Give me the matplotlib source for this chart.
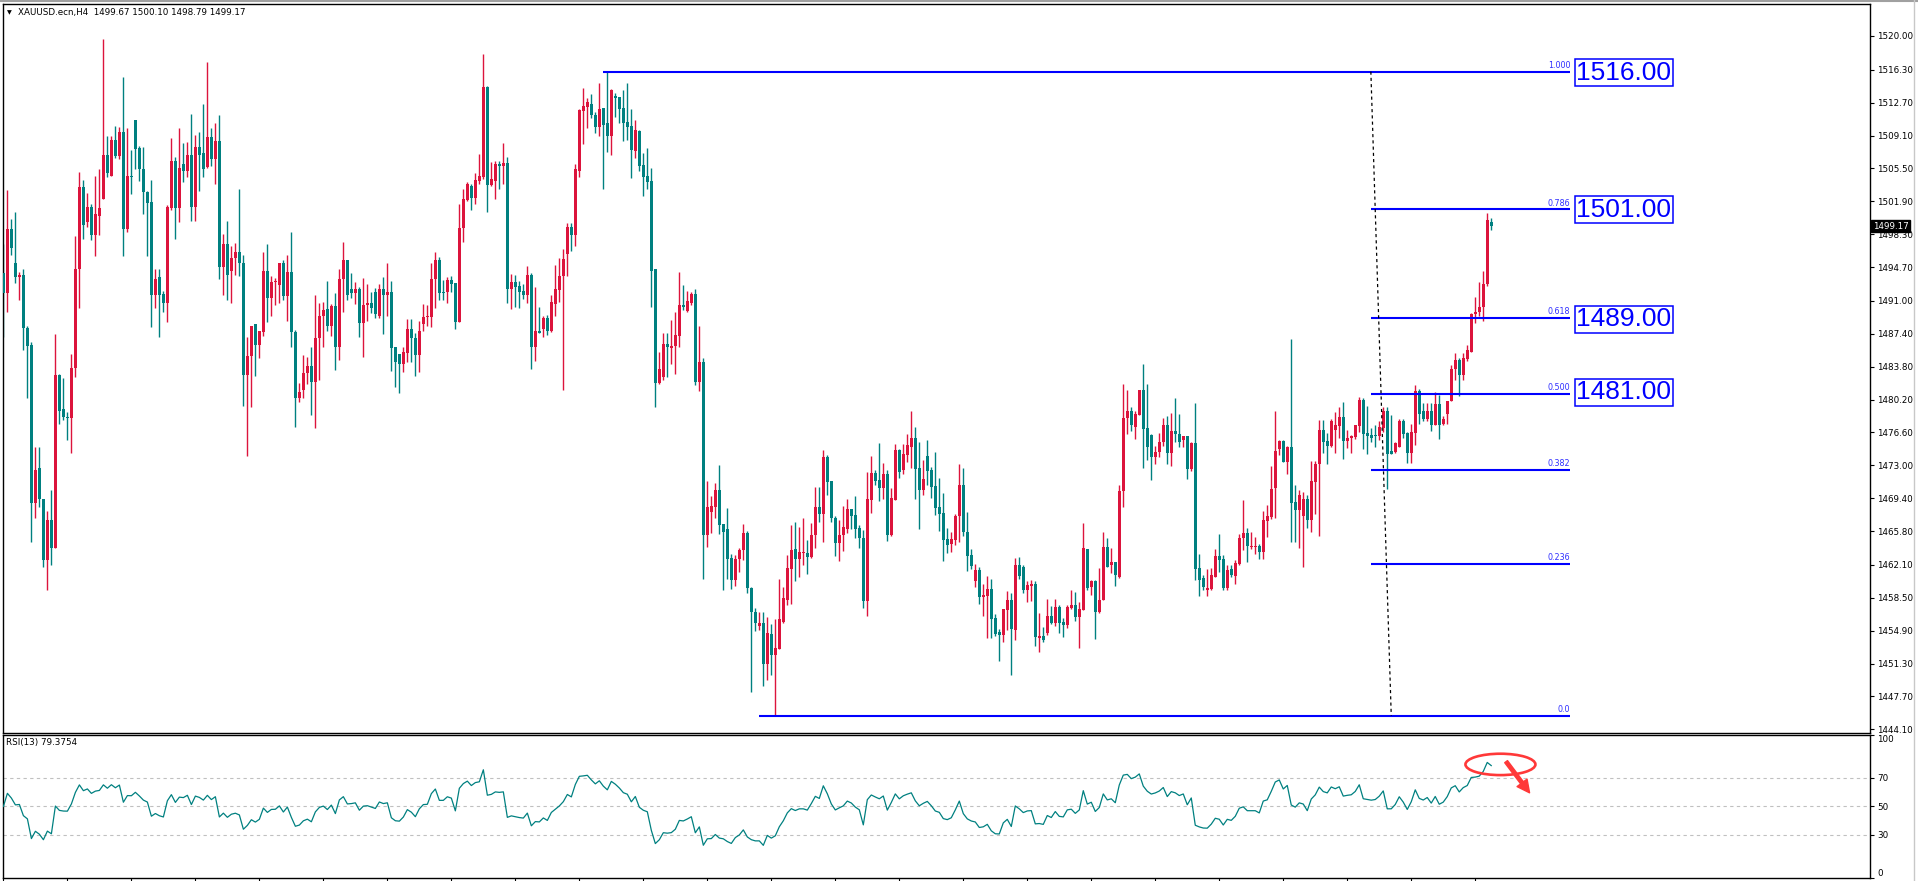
import numpy as np
import pandas as pd
import matplotlib
matplotlib.use('Agg')
import matplotlib.pyplot as plt
from matplotlib.patches import Ellipse
from matplotlib.lines import Line2D

# header texts
symbol_header = "XAUUSD.ecn,H4  1499.67 1500.10 1498.79 1499.17"
rsi_header = "RSI(13) 79.3754"
last_price = 1499.17

# XAUUSD H4 candles (oldest first)
opens = [
    1494.1, 1491.9, 1498.9, 1495.1, 1493.6, 1493.8, 1488.0, 1486.2, 1468.9, 1472.7,
    1469.3, 1462.6, 1467.0, 1464.0, 1482.9, 1479.2, 1478.3, 1478.2, 1483.7, 1494.5,
    1503.5, 1499.6, 1501.3, 1498.2, 1500.3, 1502.2, 1507.0, 1504.7, 1508.6, 1506.9,
    1509.5, 1498.9, 1504.7, 1510.8, 1507.7, 1505.4, 1502.9, 1501.8, 1491.7, 1493.6,
    1491.8, 1490.8, 1501.2, 1506.3, 1501.2, 1506.0, 1505.2, 1507.0, 1501.3, 1507.8,
    1507.2, 1505.7, 1508.9, 1506.5, 1508.5, 1494.7, 1497.2, 1494.3, 1495.7, 1496.3,
    1495.2, 1482.9, 1485.0, 1488.5, 1486.2, 1487.6, 1494.3, 1491.3, 1493.1, 1492.7,
    1495.1, 1491.5, 1494.2, 1487.6, 1480.4, 1481.3, 1483.1, 1483.9, 1482.1, 1486.9,
    1489.3, 1490.1, 1488.2, 1490.4, 1485.9, 1493.4, 1495.5, 1492.3, 1491.9, 1492.3,
    1488.6, 1490.5, 1490.8, 1492.0, 1489.3, 1492.3, 1491.7, 1492.0, 1485.9, 1485.2,
    1484.1, 1485.3, 1487.9, 1486.9, 1485.1, 1488.5, 1489.2, 1489.2, 1493.4, 1495.5,
    1492.0, 1492.0, 1493.3, 1493.0, 1488.7, 1499.0, 1502.0, 1503.6, 1502.3, 1504.1,
    1504.6, 1514.4, 1503.7, 1504.1, 1506.0, 1505.8, 1506.1, 1492.3, 1493.1, 1492.6,
    1492.1, 1491.7, 1493.8, 1485.9, 1487.7, 1487.9, 1489.1, 1487.7, 1490.7, 1492.2,
    1493.7, 1496.1, 1499.1, 1498.2, 1505.2, 1511.8, 1512.2, 1512.5, 1511.4, 1510.0,
    1512.1, 1510.5, 1509.1, 1513.4, 1513.3, 1512.1, 1510.6, 1510.1, 1507.4, 1509.6,
    1505.9, 1504.7, 1504.1, 1494.5, 1482.0, 1482.7, 1486.3, 1485.8, 1486.1, 1487.2,
    1490.6, 1489.9, 1490.8, 1491.8, 1482.1, 1484.3, 1465.4, 1467.9, 1468.4, 1470.3,
    1466.6, 1466.0, 1462.9, 1460.5, 1462.7, 1463.7, 1465.6, 1459.6, 1456.9, 1455.4,
    1455.7, 1451.2, 1454.5, 1452.2, 1452.9, 1455.9, 1458.3, 1461.7, 1463.8, 1462.8,
    1463.4, 1463.4, 1463.0, 1465.4, 1468.4, 1467.7, 1473.9, 1471.3, 1467.2, 1464.5,
    1465.4, 1466.0, 1468.2, 1467.6, 1466.1, 1465.0, 1458.1, 1469.2, 1472.2, 1471.4,
    1470.5, 1472.0, 1465.4, 1469.2, 1474.7, 1472.5, 1474.1, 1475.0, 1476.0, 1472.7,
    1470.3, 1474.0, 1472.5, 1470.7, 1468.4, 1467.8, 1464.9, 1464.4, 1464.8, 1467.4,
    1470.9, 1465.7, 1463.2, 1460.3, 1461.5, 1458.6, 1458.7, 1459.5, 1456.3, 1454.8,
    1454.4, 1457.2, 1458.3, 1455.0, 1462.1, 1461.9, 1459.3, 1459.8, 1460.0, 1454.1,
    1454.3, 1454.7, 1456.5, 1455.7, 1457.5, 1455.8, 1455.5, 1457.4, 1457.7, 1456.4,
    1457.2, 1463.8, 1459.7, 1460.3, 1456.9, 1458.3, 1464.1, 1462.1, 1462.4, 1460.8,
    1470.2, 1478.2, 1478.9, 1477.2, 1478.5, 1481.3, 1477.1, 1476.3, 1473.9, 1474.5,
    1475.5, 1477.4, 1474.3, 1476.8, 1476.4, 1475.8, 1476.2, 1472.6, 1475.4, 1461.8,
    1460.7, 1459.3, 1459.5, 1460.8, 1463.1, 1462.7, 1459.6, 1461.6, 1460.9, 1462.2,
    1465.0, 1465.6, 1464.1, 1464.1, 1464.2, 1463.5, 1466.9, 1467.3, 1470.5, 1474.8,
    1475.7, 1473.4, 1475.0, 1469.0, 1468.1, 1467.4, 1469.3, 1467.0, 1471.2, 1473.1,
    1476.9, 1475.7, 1475.1, 1476.9, 1477.3, 1478.3, 1475.7, 1476.0, 1476.1, 1477.3,
    1480.1, 1476.5, 1476.3, 1476.3, 1476.2, 1477.1, 1478.9, 1474.6, 1474.5, 1475.0,
    1477.8, 1476.5, 1474.3, 1476.5, 1481.1, 1478.9, 1478.1, 1479.0, 1477.4, 1479.7,
    1477.5, 1478.6, 1480.0, 1483.5, 1484.5, 1482.9, 1484.6, 1485.4, 1489.6, 1489.8,
    1490.3, 1492.8, 1499.67,
]
highs = [
    1497.2, 1503.1, 1500.0, 1500.7, 1494.2, 1494.5, 1488.3, 1486.5, 1475.0, 1475.0,
    1469.3, 1468.0, 1470.3, 1487.4, 1483.0, 1482.6, 1478.8, 1485.2, 1498.1, 1505.1,
    1504.2, 1502.8, 1501.6, 1504.7, 1505.4, 1519.7, 1509.1, 1509.0, 1510.1, 1510.0,
    1515.5, 1509.9, 1507.5, 1510.8, 1508.0, 1507.9, 1503.0, 1504.2, 1494.5, 1494.5,
    1492.1, 1501.5, 1508.8, 1506.8, 1509.9, 1508.3, 1508.4, 1511.5, 1509.2, 1509.5,
    1512.6, 1517.2, 1509.9, 1510.5, 1511.4, 1498.3, 1499.8, 1497.0, 1497.3, 1503.2,
    1496.0, 1487.1, 1488.2, 1488.5, 1487.7, 1496.4, 1497.2, 1493.7, 1493.5, 1495.2,
    1495.5, 1496.0, 1498.5, 1487.8, 1482.0, 1485.1, 1484.9, 1486.0, 1491.7, 1490.8,
    1490.9, 1493.2, 1490.7, 1491.9, 1494.5, 1497.5, 1495.5, 1494.1, 1493.1, 1492.5,
    1493.5, 1492.9, 1492.0, 1492.4, 1492.9, 1493.6, 1495.2, 1493.2, 1485.9, 1485.2,
    1486.0, 1489.0, 1489.0, 1487.5, 1488.8, 1490.7, 1490.6, 1495.2, 1496.4, 1495.8,
    1493.3, 1493.6, 1493.7, 1493.0, 1501.6, 1503.2, 1504.0, 1503.8, 1505.0, 1507.1,
    1518.0, 1514.5, 1506.2, 1506.3, 1506.3, 1508.3, 1506.8, 1493.9, 1493.8, 1493.2,
    1492.9, 1494.8, 1494.1, 1492.5, 1490.3, 1489.4, 1489.5, 1491.7, 1494.9, 1495.7,
    1496.7, 1499.5, 1499.5, 1506.0, 1512.0, 1514.3, 1513.2, 1513.7, 1511.7, 1514.9,
    1512.1, 1516.1, 1514.2, 1513.8, 1513.3, 1514.1, 1514.9, 1512.0, 1510.8, 1509.7,
    1507.2, 1507.7, 1505.5, 1494.5, 1485.4, 1487.5, 1487.5, 1488.9, 1489.8, 1494.2,
    1492.7, 1492.1, 1492.0, 1492.3, 1488.2, 1484.8, 1471.3, 1469.6, 1471.1, 1473.0,
    1466.6, 1468.3, 1463.3, 1463.2, 1464.0, 1466.6, 1465.8, 1459.7, 1457.4, 1457.0,
    1456.9, 1456.4, 1455.6, 1456.2, 1460.6, 1459.7, 1463.2, 1466.5, 1466.8, 1466.2,
    1467.2, 1464.8, 1466.7, 1470.6, 1470.6, 1474.7, 1474.1, 1471.3, 1467.5, 1467.0,
    1468.6, 1469.3, 1468.2, 1469.6, 1466.5, 1465.9, 1472.3, 1474.0, 1472.5, 1475.4,
    1473.3, 1472.5, 1470.5, 1475.3, 1474.8, 1475.3, 1476.4, 1478.9, 1477.2, 1475.5,
    1473.6, 1475.8, 1472.8, 1474.5, 1471.6, 1470.0, 1466.1, 1465.7, 1467.7, 1473.2,
    1472.7, 1467.9, 1463.8, 1462.2, 1461.9, 1460.0, 1460.9, 1460.6, 1456.7, 1455.1,
    1457.3, 1459.2, 1459.0, 1462.9, 1463.0, 1462.1, 1460.3, 1460.4, 1460.3, 1456.8,
    1455.3, 1458.4, 1457.6, 1458.4, 1457.7, 1456.3, 1457.7, 1459.3, 1459.1, 1458.0,
    1466.7, 1463.8, 1460.5, 1460.5, 1461.8, 1465.7, 1465.1, 1464.0, 1462.4, 1470.9,
    1481.9, 1481.3, 1479.4, 1478.9, 1481.3, 1484.1, 1481.9, 1476.4, 1475.1, 1476.5,
    1478.2, 1478.4, 1478.7, 1480.4, 1478.6, 1476.2, 1476.2, 1475.5, 1479.8, 1463.3,
    1461.0, 1461.6, 1461.8, 1463.8, 1465.5, 1463.2, 1462.1, 1462.1, 1462.6, 1465.5,
    1469.2, 1466.1, 1465.7, 1465.2, 1464.4, 1468.0, 1468.7, 1472.9, 1478.9, 1475.8,
    1475.8, 1475.1, 1486.8, 1470.9, 1470.3, 1470.1, 1469.7, 1473.5, 1473.5, 1478.0,
    1478.0, 1476.5, 1478.1, 1478.8, 1479.4, 1479.9, 1476.9, 1476.3, 1477.4, 1480.5,
    1480.4, 1479.5, 1477.1, 1477.4, 1477.8, 1479.4, 1479.4, 1478.5, 1475.5, 1478.1,
    1478.1, 1476.7, 1477.5, 1481.8, 1481.4, 1479.8, 1479.8, 1479.8, 1481.0, 1480.7,
    1478.4, 1480.0, 1484.0, 1485.3, 1484.7, 1485.3, 1486.2, 1489.7, 1491.4, 1493.1,
    1494.3, 1500.6, 1500.10,
]
lows = [
    1487.1, 1489.8, 1496.0, 1493.0, 1491.1, 1485.6, 1480.4, 1464.6, 1467.2, 1468.4,
    1461.9, 1459.3, 1462.1, 1464.0, 1477.5, 1478.0, 1475.8, 1474.4, 1482.7, 1490.2,
    1497.8, 1499.1, 1497.7, 1495.9, 1498.2, 1502.2, 1504.6, 1504.7, 1506.6, 1506.5,
    1495.9, 1498.5, 1502.7, 1505.4, 1504.1, 1500.5, 1495.9, 1488.1, 1490.2, 1487.1,
    1489.8, 1488.7, 1500.9, 1497.8, 1499.6, 1504.0, 1504.6, 1499.8, 1499.8, 1503.0,
    1504.6, 1505.5, 1505.8, 1503.8, 1493.4, 1491.7, 1491.1, 1490.8, 1493.8, 1493.7,
    1479.5, 1474.0, 1479.4, 1482.8, 1484.7, 1487.2, 1488.7, 1489.3, 1490.6, 1490.8,
    1491.1, 1488.8, 1485.9, 1477.2, 1479.9, 1480.4, 1481.9, 1478.5, 1477.1, 1482.3,
    1486.0, 1487.7, 1487.2, 1483.4, 1484.5, 1489.8, 1491.1, 1491.3, 1490.7, 1487.0,
    1484.9, 1488.8, 1489.7, 1489.1, 1489.1, 1487.4, 1489.4, 1483.3, 1481.6, 1480.9,
    1483.2, 1484.3, 1484.3, 1482.8, 1483.2, 1487.7, 1488.2, 1488.1, 1490.2, 1491.1,
    1491.1, 1490.8, 1492.0, 1487.9, 1488.7, 1497.5, 1501.9, 1500.9, 1501.6, 1503.8,
    1504.3, 1500.7, 1503.6, 1502.1, 1503.2, 1503.8, 1490.8, 1490.1, 1490.3, 1490.2,
    1491.2, 1490.8, 1483.6, 1484.4, 1487.5, 1487.0, 1487.3, 1487.6, 1489.3, 1490.9,
    1481.2, 1493.7, 1496.5, 1497.0, 1504.6, 1508.2, 1509.9, 1511.0, 1509.4, 1509.1,
    1503.2, 1507.3, 1507.0, 1511.1, 1510.5, 1508.5, 1508.6, 1504.4, 1506.6, 1505.2,
    1502.5, 1503.3, 1490.3, 1479.4, 1481.9, 1482.3, 1482.7, 1484.1, 1483.0, 1486.0,
    1490.0, 1489.8, 1490.5, 1481.8, 1481.1, 1460.6, 1464.1, 1465.6, 1467.2, 1465.5,
    1459.3, 1460.6, 1459.5, 1459.8, 1461.3, 1462.6, 1459.0, 1448.2, 1454.9, 1455.0,
    1448.8, 1449.5, 1450.0, 1445.6, 1452.9, 1455.7, 1457.7, 1457.8, 1460.3, 1460.8,
    1462.1, 1461.1, 1462.9, 1464.0, 1466.8, 1464.6, 1469.7, 1466.8, 1463.1, 1462.5,
    1463.6, 1465.6, 1466.0, 1465.0, 1464.0, 1457.4, 1456.5, 1467.8, 1470.8, 1469.1,
    1469.3, 1464.7, 1465.3, 1469.2, 1471.6, 1472.0, 1473.4, 1472.7, 1469.3, 1466.0,
    1469.7, 1470.9, 1469.4, 1467.6, 1465.8, 1462.5, 1463.4, 1463.5, 1464.3, 1464.6,
    1465.3, 1461.4, 1461.7, 1459.7, 1457.8, 1456.5, 1454.1, 1454.1, 1454.3, 1451.6,
    1453.7, 1455.0, 1450.0, 1453.9, 1460.6, 1459.0, 1458.0, 1458.1, 1453.2, 1452.6,
    1453.7, 1454.4, 1455.6, 1455.4, 1454.7, 1454.2, 1455.2, 1457.3, 1456.0, 1453.0,
    1457.2, 1459.3, 1458.8, 1454.0, 1456.8, 1458.3, 1461.9, 1461.2, 1459.8, 1460.7,
    1468.4, 1476.4, 1476.8, 1475.9, 1478.5, 1472.7, 1473.6, 1471.4, 1473.1, 1473.9,
    1475.1, 1473.1, 1472.9, 1475.5, 1475.0, 1475.0, 1471.5, 1472.4, 1460.4, 1458.7,
    1459.3, 1458.7, 1459.3, 1460.8, 1461.3, 1459.3, 1459.3, 1460.8, 1460.0, 1462.1,
    1463.7, 1462.4, 1463.8, 1463.3, 1462.8, 1462.7, 1465.2, 1467.1, 1467.2, 1474.1,
    1473.4, 1472.1, 1464.6, 1464.6, 1463.9, 1461.9, 1466.1, 1465.7, 1467.7, 1465.3,
    1474.4, 1473.1, 1475.0, 1474.4, 1476.0, 1473.7, 1474.9, 1474.4, 1475.9, 1476.7,
    1474.8, 1474.2, 1475.5, 1475.0, 1475.8, 1476.6, 1470.4, 1474.2, 1474.3, 1475.0,
    1476.0, 1473.3, 1473.3, 1475.2, 1477.5, 1477.8, 1477.8, 1476.8, 1477.4, 1475.9,
    1477.4, 1477.5, 1480.0, 1482.3, 1480.6, 1482.3, 1484.4, 1485.4, 1488.6, 1489.3,
    1488.8, 1492.6, 1498.79,
]
closes = [
    1491.9, 1498.9, 1496.8, 1493.6, 1493.8, 1488.0, 1486.1, 1468.9, 1472.5, 1469.3,
    1462.6, 1467.0, 1464.0, 1482.9, 1478.9, 1478.3, 1478.2, 1483.7, 1494.5, 1503.5,
    1499.3, 1501.3, 1498.2, 1500.5, 1501.2, 1507.0, 1505.0, 1508.6, 1506.9, 1509.5,
    1498.9, 1504.7, 1504.6, 1507.6, 1505.4, 1502.9, 1501.7, 1491.7, 1493.4, 1491.7,
    1490.8, 1501.3, 1506.3, 1501.2, 1505.5, 1505.2, 1507.0, 1501.3, 1507.8, 1507.0,
    1505.4, 1508.9, 1506.5, 1508.5, 1494.7, 1497.2, 1493.8, 1495.7, 1496.3, 1495.1,
    1482.9, 1485.0, 1488.2, 1486.2, 1487.7, 1494.3, 1491.3, 1493.1, 1493.2, 1495.1,
    1491.5, 1494.2, 1487.6, 1480.4, 1481.0, 1483.1, 1483.9, 1482.1, 1486.9, 1489.3,
    1490.0, 1488.2, 1490.4, 1485.9, 1493.4, 1495.5, 1491.7, 1491.9, 1492.3, 1488.6,
    1490.6, 1490.8, 1490.2, 1489.6, 1492.3, 1491.7, 1492.0, 1485.8, 1484.3, 1484.1,
    1485.4, 1487.9, 1486.9, 1485.1, 1487.7, 1489.2, 1489.3, 1493.4, 1495.5, 1491.9,
    1491.9, 1493.3, 1492.9, 1488.7, 1499.0, 1502.1, 1503.8, 1502.3, 1504.2, 1504.7,
    1514.4, 1503.7, 1504.3, 1506.0, 1505.8, 1506.1, 1492.3, 1493.1, 1492.5, 1492.0,
    1491.7, 1493.8, 1485.9, 1487.7, 1487.5, 1489.1, 1487.7, 1490.9, 1492.3, 1493.7,
    1495.6, 1499.1, 1498.2, 1505.4, 1511.9, 1512.3, 1512.8, 1511.3, 1510.0, 1512.0,
    1510.3, 1509.1, 1514.1, 1513.2, 1512.0, 1510.5, 1510.0, 1507.5, 1509.7, 1505.8,
    1504.6, 1504.0, 1494.3, 1482.0, 1483.5, 1486.3, 1485.9, 1486.1, 1487.3, 1490.6,
    1490.3, 1491.0, 1491.8, 1482.1, 1484.3, 1465.4, 1468.4, 1468.5, 1470.3, 1466.5,
    1465.7, 1462.7, 1460.5, 1462.7, 1463.7, 1465.6, 1459.6, 1456.9, 1455.7, 1455.7,
    1451.2, 1454.6, 1452.2, 1453.0, 1456.2, 1458.5, 1461.8, 1463.7, 1462.8, 1463.5,
    1463.5, 1463.0, 1465.4, 1468.4, 1467.7, 1473.9, 1471.2, 1467.2, 1464.5, 1465.4,
    1466.2, 1468.2, 1467.5, 1466.0, 1465.0, 1458.1, 1469.3, 1472.2, 1471.3, 1470.5,
    1472.0, 1465.4, 1469.4, 1474.7, 1472.3, 1474.2, 1475.2, 1476.0, 1472.6, 1470.3,
    1471.5, 1472.4, 1470.6, 1468.3, 1467.7, 1464.8, 1464.3, 1464.9, 1467.5, 1470.9,
    1465.7, 1463.1, 1462.0, 1461.5, 1458.6, 1458.8, 1459.5, 1456.2, 1454.5, 1454.4,
    1457.3, 1458.3, 1455.1, 1462.1, 1460.9, 1459.3, 1459.9, 1460.0, 1454.2, 1454.3,
    1453.9, 1456.5, 1455.7, 1457.5, 1455.7, 1455.5, 1457.5, 1457.7, 1456.4, 1457.3,
    1463.9, 1459.6, 1460.3, 1456.9, 1458.3, 1464.1, 1461.9, 1462.4, 1461.0, 1470.2,
    1478.2, 1478.9, 1477.4, 1478.6, 1481.3, 1477.0, 1475.0, 1473.9, 1474.5, 1475.5,
    1477.4, 1474.3, 1476.8, 1476.4, 1475.5, 1476.2, 1472.6, 1475.4, 1461.7, 1460.5,
    1459.7, 1459.6, 1461.0, 1463.1, 1462.6, 1459.6, 1461.5, 1461.0, 1462.3, 1465.1,
    1465.6, 1464.2, 1464.2, 1464.2, 1463.5, 1467.0, 1467.4, 1470.4, 1474.6, 1475.7,
    1473.4, 1475.0, 1468.9, 1468.1, 1469.7, 1469.3, 1467.0, 1471.3, 1473.1, 1476.9,
    1475.5, 1475.1, 1477.9, 1477.4, 1478.3, 1475.7, 1476.0, 1476.2, 1477.4, 1480.1,
    1476.4, 1476.2, 1476.0, 1476.2, 1477.2, 1478.9, 1474.2, 1474.2, 1475.4, 1477.8,
    1476.4, 1474.3, 1476.6, 1481.1, 1478.6, 1478.1, 1479.0, 1477.4, 1479.7, 1477.4,
    1478.1, 1480.0, 1483.5, 1484.5, 1482.9, 1484.7, 1485.6, 1489.6, 1489.8, 1490.3,
    1492.9, 1499.9, 1499.17,
]

# Wilder averages carried in from before the first visible bar (RSI ~50 there)
rsi_period = 13
rsi_seed_gain = 1.4
rsi_seed_loss = 1.4

price_ticks = [1520.00, 1516.30, 1512.70, 1509.10, 1505.50, 1501.90, 1498.30,
               1494.70, 1491.00, 1487.40, 1483.80, 1480.20, 1476.60, 1473.00,
               1469.40, 1465.80, 1462.10, 1458.50, 1454.90, 1451.30, 1447.70,
               1444.10]
rsi_ticks = [0, 30, 50, 70, 100]
rsi_levels = [30, 50, 70]

# fibonacci retracement
fib_high = 1516.1
fib_low = 1445.6
fib_ratios = [0.0, 0.236, 0.382, 0.5, 0.618, 0.786, 1.0]
fib_names = ['0.0', '0.236', '0.382', '0.500', '0.618', '0.786', '1.000']
fib_box_labels = ['1481.00', '1489.00', '1501.00', '1516.00']

bull = '#dc143c'
bear = '#008080'
fib_blue = '#0000ff'

W, H = 1918, 881
fig = plt.figure(figsize=(W / 100, H / 100), dpi=100)
ax = fig.add_axes([3 / W, 1 - 733 / H, 1867 / W, 729 / H])
ax_rsi = fig.add_axes([3 / W, 1 - 877.7 / H, 1867 / W, 142.5 / H])

n = len(closes)
x = np.arange(n)
o = np.array(opens)
c = np.array(closes)
hi = np.array(highs)
lo = np.array(lows)
colors = np.where(c >= o, bull, bear)

ax.vlines(x, lo, hi, colors=colors, linewidth=1, zorder=2)
body_low = np.minimum(o, c)
body_h = np.maximum(np.abs(c - o), 0.12)
ax.bar(x, body_h, bottom=body_low, width=0.75, color=colors, linewidth=0, zorder=3)

ax.set_xlim(-0.1, 466.7)
ax.set_ylim(1443.7, 1523.5)
ax.set_xticks([])
ax.yaxis.tick_right()
ax.set_yticks(price_ticks)
ax.set_yticklabels([f'{v:.2f}' for v in price_ticks])
ax.tick_params(axis='y', direction='out', length=3, width=0.8, labelsize=6.3, pad=2)

# fib levels
fib_end = 391.8
for r, name in zip(fib_ratios, fib_names):
    lvl = fib_low + r * (fib_high - fib_low)
    if r == 1.0:
        start = 150
    elif r == 0.0:
        start = 189
    else:
        start = 341.9
    ax.hlines(lvl, start, fib_end, color=fib_blue, linewidth=1.5, zorder=4)
    ax.text(fib_end, lvl + 0.2, name, ha='right', va='bottom', fontsize=5.8,
            color='#3030ff', zorder=5)
ax.plot([341.9, 347.0], [fib_high, fib_low], color='black', linewidth=0.9,
        linestyle=(0, (2.5, 2.5)), zorder=4)

for lab in fib_box_labels:
    ax.text(393.3, float(lab), lab, ha='left', va='center', fontsize=19,
            family='Liberation Sans', color=fib_blue, zorder=6,
            bbox=dict(boxstyle='square,pad=0.06', fc='white', ec=fib_blue, lw=1.1))

# current price tag
ax.text(1.0015, last_price, f'{last_price:.2f}', transform=ax.get_yaxis_transform(),
        ha='left', va='center', fontsize=6.3, color='white', zorder=10, clip_on=False,
        bbox=dict(boxstyle='square,pad=0.15', fc='black', ec='black'))

# RSI(13), Wilder smoothing
delta = np.diff(c, prepend=c[0])
avg_gain = rsi_seed_gain
avg_loss = rsi_seed_loss
rsi = []
for d in delta:
    avg_gain = (avg_gain * (rsi_period - 1) + max(d, 0)) / rsi_period
    avg_loss = (avg_loss * (rsi_period - 1) + max(-d, 0)) / rsi_period
    rsi.append(100 - 100 / (1 + avg_gain / avg_loss))
rsi = pd.Series(rsi)

for lvl in rsi_levels:
    ax_rsi.axhline(lvl, color='#c0c0c0', linewidth=0.8, linestyle=(0, (3, 3)), zorder=1)
ax_rsi.plot(x, rsi, color=bear, linewidth=0.9, zorder=3)
ax_rsi.set_xlim(-0.1, 466.7)
ax_rsi.set_ylim(0, 100)
ax_rsi.yaxis.tick_right()
ax_rsi.set_yticks(rsi_ticks)
ax_rsi.set_yticklabels([str(v) for v in rsi_ticks])
ax_rsi.tick_params(axis='y', direction='out', length=3, width=0.8, labelsize=6.3, pad=2)
for lab in ax_rsi.get_yticklabels():
    if lab.get_text() == '100':
        lab.set_verticalalignment('top')
    elif lab.get_text() == '0':
        lab.set_verticalalignment('bottom')
ax_rsi.set_xticks(np.arange(0, 369, 16))
ax_rsi.tick_params(axis='x', direction='out', length=4, width=0.8, labelbottom=False)

ax_rsi.add_patch(Ellipse((374.3, 79.5), 17.5, 15, fill=False, ec='#ff3838', lw=1.9, zorder=5))
ax_rsi.annotate('', xy=(382, 58), xytext=(375.3, 83),
                arrowprops=dict(arrowstyle='simple,head_width=0.9,head_length=0.9,tail_width=0.25',
                                fc='#ff3838', ec='#ff3838'), zorder=5)

for a in (ax, ax_rsi):
    for sp in a.spines.values():
        sp.set_color('black')
        sp.set_linewidth(1)

fig.text(9 / W, 1 - 13 / H, '\u25bc', fontsize=4.5, va='center', ha='center')
fig.text(18 / W, 1 - 13 / H, symbol_header, fontsize=6.3, va='center', ha='left')
fig.text(6 / W, 1 - 742 / H, rsi_header, fontsize=6.3, va='center', ha='left')

fig.add_artist(Line2D([0, 1], [1 - 0.8 / H] * 2, color='#a0a0a0', lw=1.5,
                      transform=fig.transFigure))
fig.add_artist(Line2D([1 - 4 / W] * 2, [0, 1], color='#c8c8c8', lw=1,
                      transform=fig.transFigure))

fig.savefig('out.png', dpi=100, facecolor='white')
